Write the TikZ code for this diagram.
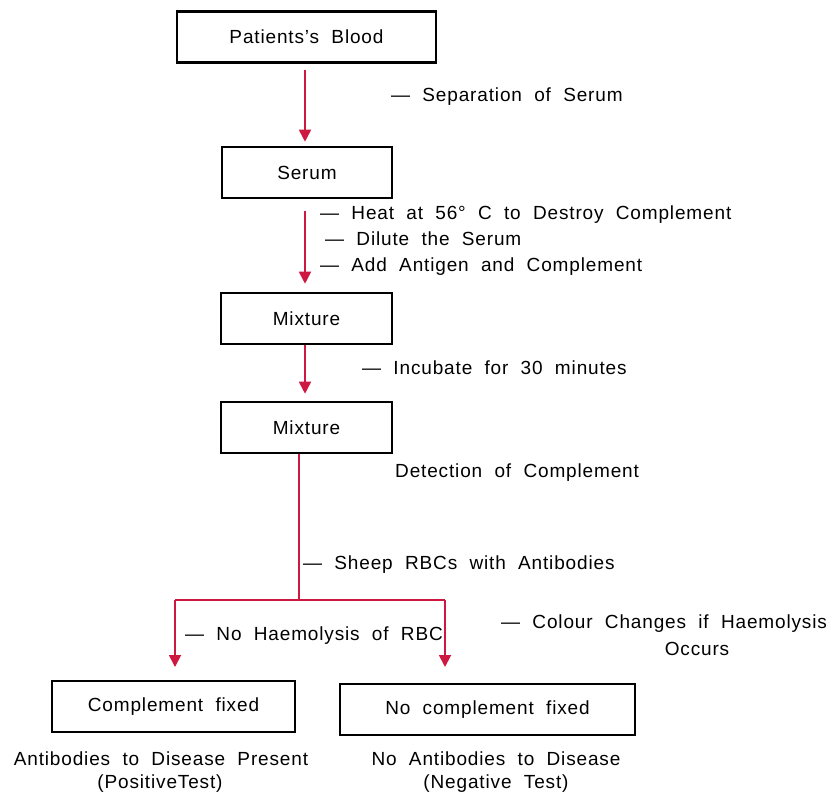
\documentclass[tikz,border=0pt]{standalone}
\usepackage{fontspec}
\setmainfont[LetterSpace=4.5,WordSpace=2]{Liberation Sans}
\usetikzlibrary{arrows.meta}
\definecolor{arrred}{RGB}{205,25,65}
\begin{document}
\begin{tikzpicture}[x=1pt,y=-1pt,
  every node/.style={font=\fontsize{19}{23}\selectfont},
  box/.style={draw=black,line width=2.6pt,minimum height=51pt,inner sep=0pt},
  lbl/.style={anchor=west,inner sep=0pt},
  flow/.style={draw=arrred,line width=1.8pt},
  arr/.style={flow,-{Triangle[length=12pt,width=12pt]}}]
\useasboundingbox (0,0) rectangle (832,796);
% boxes
\node[box,minimum width=259pt] (blood) at (306.5,37) {Patients's Blood};
\node[box,minimum width=170pt] (serum) at (307,172.5) {Serum};
\node[box,minimum width=171pt] (mix1) at (306.5,318.5) {Mixture};
\node[box,minimum width=171pt] (mix2) at (306.5,427.5) {Mixture};
\node[box,minimum width=243pt] (cf) at (173.5,706.5) {Complement fixed};
\node[box,minimum width=295pt] (ncf) at (487.5,709.5) {No complement fixed};
% coordinates
\coordinate (split) at (299,600);
\coordinate (bl) at (175,600);
\coordinate (br) at (445,600);
\coordinate (bltip) at (175,667);
\coordinate (brtip) at (445,667);
% connectors
\draw[arr,shorten <=6pt,shorten >=4pt] (blood.south -| 305,0) -- (serum.north -| 305,0);
\draw[arr,shorten <=12pt,shorten >=8pt] (serum.south -| 305,0) -- (mix1.north -| 305,0);
\draw[arr,shorten >=7pt] (mix1.south -| 305,0) -- (mix2.north -| 305,0);
\draw[flow] (mix2.south -| split) -- (split);
\draw[flow] (bl) -- (br);
\draw[arr] (bl) -- (bltip);
\draw[arr] (br) -- (brtip);
% labels
\node[lbl] (l1) at (391,97) {— Separation of Serum};
\node[lbl] (l2) at (320,215) {— Heat at 56° C to Destroy Complement};
\node[lbl] (l3) at (325,239) {— Dilute the Serum};
\node[lbl] (l4) at (320,267) {— Add Antigen and Complement};
\node[lbl] (l5) at (362,368) {— Incubate for 30 minutes};
\node[lbl] (l6) at (395,473) {Detection of Complement};
\node[lbl] (l7) at (303,565) {— Sheep RBCs with Antibodies};
\node[lbl] (l8) at (185,636) {— No Haemolysis of RBC};
\node[lbl] (l9) at (501,624) {— Colour Changes if Haemolysis};
\node (l10) at (697,649) {Occurs};
\node (l11) at (161,759) {Antibodies to Disease Present};
\node (l12) at (160,784) {(PositiveTest)};
\node (l13) at (496,759) {No Antibodies to Disease};
\node (l14) at (496,784) {(Negative Test)};
\end{tikzpicture}
\end{document}
